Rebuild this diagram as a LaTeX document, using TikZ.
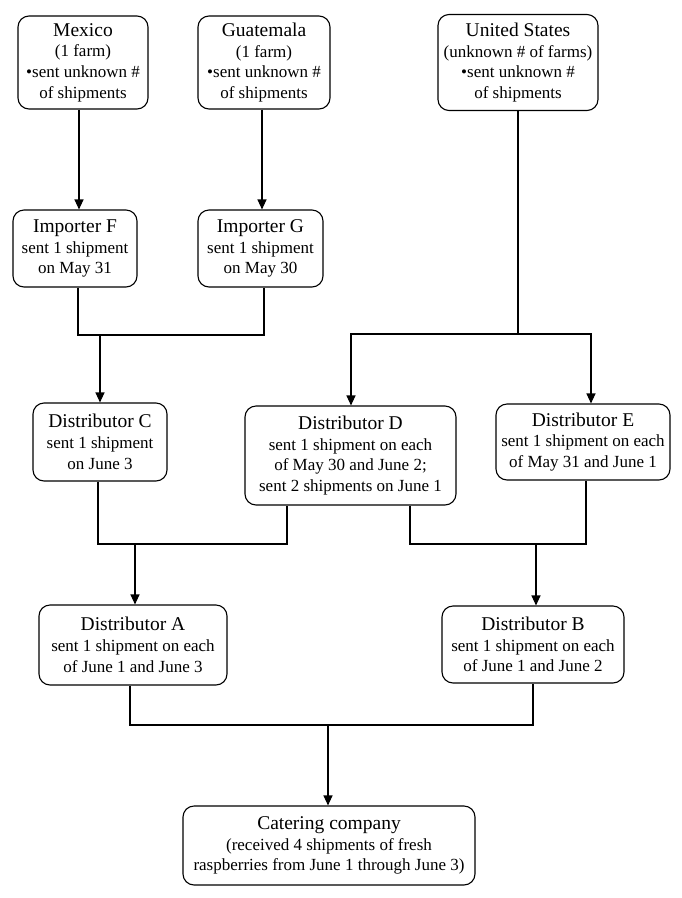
\documentclass[tikz,border=0pt]{standalone}
\usepackage{fontspec}
\setmainfont{Liberation Serif}
\usetikzlibrary{arrows.meta}
\newcommand\bsz{\fontsize{17}{20.7}\selectfont}
\newcommand\tsz{\fontsize{19.5}{20.7}\selectfont}
\begin{document}
\begin{tikzpicture}[x=1pt,y=-1pt,
  box/.style={draw, line width=1.1pt, rounded corners=11pt, align=center, inner sep=0pt, font=\bsz},
  ln/.style={line width=1.1pt},
  arr/.style={line width=1.1pt, -{Triangle[length=10pt,width=9pt]}}]
\useasboundingbox (0,0) rectangle (682,898);
% sources
\node[box, minimum width=130pt, minimum height=93pt] (mex) at (83,62.5) {{\tsz Mexico}\\(1 farm)\\•sent unknown \#\\of shipments};
\node[box, minimum width=132pt, minimum height=93pt] (guat) at (264,62.5) {{\tsz Guatemala}\\(1 farm)\\•sent unknown \#\\of shipments};
\node[box, minimum width=160pt, minimum height=96pt] (us) at (518,62.5) {{\tsz United States}\\(unknown \# of farms)\\•sent unknown \#\\of shipments};
% importers
\node[box, minimum width=124pt, minimum height=77pt] (impF) at (75,248.5) {{\tsz Importer F}\\sent 1 shipment\\on May 31};
\node[box, minimum width=125pt, minimum height=77pt] (impG) at (260.5,248.5) {{\tsz Importer G}\\sent 1 shipment\\on May 30};
% distributors C D E
\node[box, minimum width=134pt, minimum height=78pt] (distC) at (100,442) {{\tsz Distributor C}\\sent 1 shipment\\on June 3};
\node[box, minimum width=211pt, minimum height=99pt] (distD) at (350.5,455.5) {{\tsz Distributor D}\\sent 1 shipment on each\\of May 30 and June 2;\\sent 2 shipments on June 1};
\node[box, minimum width=174pt, minimum height=76pt] (distE) at (583,442) {{\tsz Distributor E}\\sent 1 shipment on each\\of May 31 and June 1};
% distributors A B
\node[box, minimum width=188pt, minimum height=80pt] (distA) at (133,645) {{\tsz Distributor A}\\sent 1 shipment on each\\of June 1 and June 3};
\node[box, minimum width=182pt, minimum height=77pt] (distB) at (533,644.5) {{\tsz Distributor B}\\sent 1 shipment on each\\of June 1 and June 2};
% catering
\node[box, minimum width=292pt, minimum height=79pt] (cat) at (329,845.5) {{\tsz Catering company}\\(received 4 shipments of fresh\\raspberries from June 1 through June 3)};
% junctions
\coordinate (j1) at (100,335);
\coordinate (j2) at (518,334);
\coordinate (j3) at (135,544);
\coordinate (j4) at (536,544);
\coordinate (j5) at (328,725);
% connectors
\draw[arr] ([xshift=-4pt]mex.south) -- ([xshift=-4pt]mex.south |- impF.north);
\draw[arr] ([xshift=-2pt]guat.south) -- ([xshift=-2pt]guat.south |- impG.north);
\draw[ln] ([xshift=3pt]impF.south) |- (j1) -| ([xshift=3.5pt]impG.south);
\draw[arr] (j1) -- (j1 |- distC.north);
\draw[ln] (us.south) -- (j2);
\draw[arr] (j2) -| ([xshift=0.5pt]distD.north);
\draw[arr] (j2) -| ([xshift=8pt]distE.north);
\draw[ln] ([xshift=-2pt]distC.south) |- (j3) -| ([xshift=-63.5pt]distD.south);
\draw[arr] (j3) -- (j3 |- distA.north);
\draw[ln] ([xshift=59.5pt]distD.south) |- (j4) -| ([xshift=3pt]distE.south);
\draw[arr] (j4) -- (j4 |- distB.north);
\draw[ln] ([xshift=-3pt]distA.south) |- (j5) -| (distB.south);
\draw[arr] (j5) -- (j5 |- cat.north);
\end{tikzpicture}
\end{document}
